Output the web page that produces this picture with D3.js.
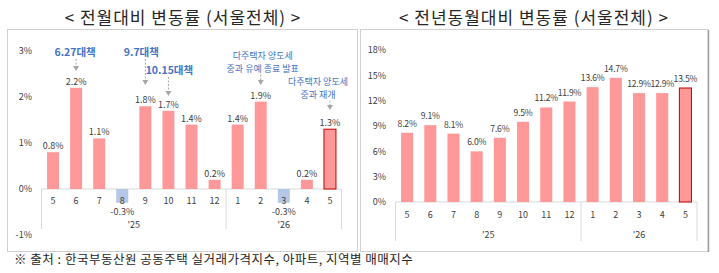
<!DOCTYPE html>
<html><head><meta charset="utf-8">
<script src="https://cdn.jsdelivr.net/npm/d3@7/dist/d3.min.js"></script>
<style>
body{margin:0;background:#fff;}
text{font-family:"Noto Sans CJK KR","Noto Sans",sans-serif;}
</style></head>
<body><svg id="c" width="719" height="273"></svg>
<script>
const months = ["5","6","7","8","9","10","11","12","1","2","3","4","5"];
const years = ["'25","'26"];
const yearSpan = [8,5];
const momValues = [0.8,2.2,1.1,-0.3,1.8,1.7,1.4,0.2,1.4,1.9,-0.3,0.2,1.3];
const yoyValues = [8.2,9.1,8.1,6.0,7.6,9.5,11.2,11.9,13.6,14.7,12.9,12.9,13.5];
const momTicks = [-1,0,1,2,3];
const yoyTicks = [0,3,6,9,12,15,18];
const titles = ["< 전월대비 변동률 (서울전체) >","< 전년동월대비 변동률 (서울전체) >"];
const annotations = [
  {idx:1, lines:["6.27대책"], bold:true},
  {idx:4, lines:["9.7대책"], bold:true},
  {idx:5, lines:["10.15대책"], bold:true},
  {idx:9, lines:["다주택자 양도세","중과 유예 종료 발표"], bold:false},
  {idx:12, lines:["다주택자 양도세","중과 재개"], bold:false}
];
const source = "※ 출처 : 한국부동산원 공동주택 실거래가격지수, 아파트, 지역별 매매지수";

const svg = d3.select("#c");
const pink = "#ff9999", blue = "#b4c7e7", edge = "#c00000", grid = "#d9d9d9", txt = "#404040";

svg.append("rect").attr("x",7.5).attr("y",29.5).attr("width",350).attr("height",222).attr("fill","none").attr("stroke","#d0d0d0");
svg.append("rect").attr("x",360.5).attr("y",29.5).attr("width",347.5).attr("height",222).attr("fill","none").attr("stroke","#d0d0d0");
svg.append("line").attr("x1",708.5).attr("x2",708.5).attr("y1",30).attr("y2",252).attr("stroke","#a0a0a0").attr("stroke-width",1.5);

svg.append("text").attr("x",183).attr("y",24).attr("text-anchor","middle").attr("font-size",17).attr("font-weight",400).attr("letter-spacing",1).attr("fill","#262626").text(titles[0]);
svg.append("text").attr("x",534).attr("y",24).attr("text-anchor","middle").attr("font-size",17).attr("font-weight",400).attr("letter-spacing",1).attr("fill","#262626").text(titles[1]);

function panel(cfg){
  const idx = d3.range(months.length);
  const x = d3.scaleBand().domain(idx).range(cfg.xr).paddingInner(0.48).paddingOuter(0.24);
  const y = d3.scaleLinear().domain(cfg.yd).range(cfg.yr);
  const g = svg.append("g");
  const ya = d3.axisLeft(y).tickValues(cfg.ticks).tickSize(0).tickPadding(0).tickFormat(d=>d+"%");
  const yg = g.append("g").attr("transform",`translate(${cfg.ylx},0)`).call(ya);
  yg.select(".domain").remove();
  yg.selectAll("text").attr("font-size",9).attr("fill","#404040").attr("font-family","'Noto Sans CJK KR',sans-serif");
  g.append("line").attr("x1",cfg.xr[0]).attr("x2",cfg.xr[1]).attr("y1",y(0)).attr("y2",y(0)).attr("stroke",grid);
  g.selectAll("rect.bar").data(cfg.values).join("rect")
    .attr("x",(d,i)=>x(i)).attr("width",x.bandwidth())
    .attr("y",d=>d>=0?y(d):y(0)).attr("height",d=>Math.abs(y(d)-y(0)))
    .attr("fill",d=>d>=0?pink:blue)
    .attr("stroke",(d,i)=>i===cfg.values.length-1?edge:"none").attr("stroke-width",1);
  g.selectAll("text.val").data(cfg.values).join("text")
    .attr("x",(d,i)=>x(i)+x.bandwidth()/2)
    .attr("y",d=>d>=0?y(d)-cfg.lblOff:y(d)+12.5)
    .attr("text-anchor","middle").attr("font-size",cfg.lblSize).attr("letter-spacing",cfg.lblLs).attr("fill",txt)
    .text(d=>d.toFixed(1)+"%");
  const xa = d3.axisBottom(x).tickSize(0).tickPadding(0).tickFormat(i=>months[i]);
  const xg = g.append("g").attr("transform",`translate(0,${cfg.catY})`).call(xa);
  xg.select(".domain").remove();
  xg.selectAll("text").attr("font-size",9).attr("fill",txt).attr("dy","0.35em").attr("font-family","'Noto Sans CJK KR',sans-serif");
  const step = x.step();
  let start = 0;
  yearSpan.forEach((n,k)=>{
    const x0 = cfg.xr[0] + start*step, x1 = cfg.xr[0] + (start+n)*step;
    g.append("line").attr("x1",x1).attr("x2",x1).attr("y1",y(0)).attr("y2",cfg.sepEnd).attr("stroke",grid);
    g.append("text").attr("x",(x0+x1)/2).attr("y",cfg.grpY).attr("text-anchor","middle").attr("dy","0.35em").attr("font-size",9).attr("fill",txt).text(years[k]);
    start += n;
  });
  g.append("line").attr("x1",cfg.xr[0]).attr("x2",cfg.xr[0]).attr("y1",y(0)).attr("y2",cfg.sepEnd).attr("stroke",grid);
  return {x,y,g};
}

const L = panel({xr:[41.5,341.5], yd:[-1,3], yr:[235,51], ticks:momTicks, values:momValues, ylx:32, lblOff:3, lblSize:9, lblLs:0, catY:200.5, grpY:225, sepEnd:229});
const R = panel({xr:[395.5,697], yd:[0,18], yr:[202,50], ticks:yoyTicks, values:yoyValues, ylx:386, lblOff:6, lblSize:8.6, lblLs:-0.2, catY:215, grpY:235, sepEnd:241});

const annCol = "#4472c4", arrowCol = "#a6a6a6";
const annPos = [
  {dx:-1, ty:52, tip:71},
  {dx:-4, ty:52, tip:85},
  {dx:1, ty:70, tip:96},
  {dx:2, ty:56, tip:85},
  {dx:-12, ty:82, tip:110}
];
annotations.forEach((a,k)=>{
  const cx = L.x(a.idx)+L.x.bandwidth()/2;
  const p = annPos[k];
  const lh = a.bold?0:12.5;
  a.lines.forEach((ln,j)=>{
    svg.append("text").attr("x",cx+p.dx).attr("y",p.ty+j*lh).attr("dy","0.35em").attr("text-anchor","middle")
      .attr("font-size",a.bold?10.5:9).attr("font-weight",a.bold?700:400).attr("fill",annCol).text(ln);
  });
  const y0 = p.ty + (a.lines.length-1)*lh + (a.bold?7:6);
  svg.append("line").attr("x1",cx).attr("x2",cx).attr("y1",y0).attr("y2",p.tip-4)
    .attr("stroke",arrowCol).attr("stroke-width",1).attr("stroke-dasharray","2,1.5");
  svg.append("path").attr("d",`M${cx-3},${p.tip-5}L${cx+3},${p.tip-5}L${cx},${p.tip}Z`).attr("fill",arrowCol);
});

svg.append("text").attr("x",14).attr("y",264).attr("font-size",12.5).attr("letter-spacing",0.5).attr("fill","#262626").text(source);
</script></body></html>
